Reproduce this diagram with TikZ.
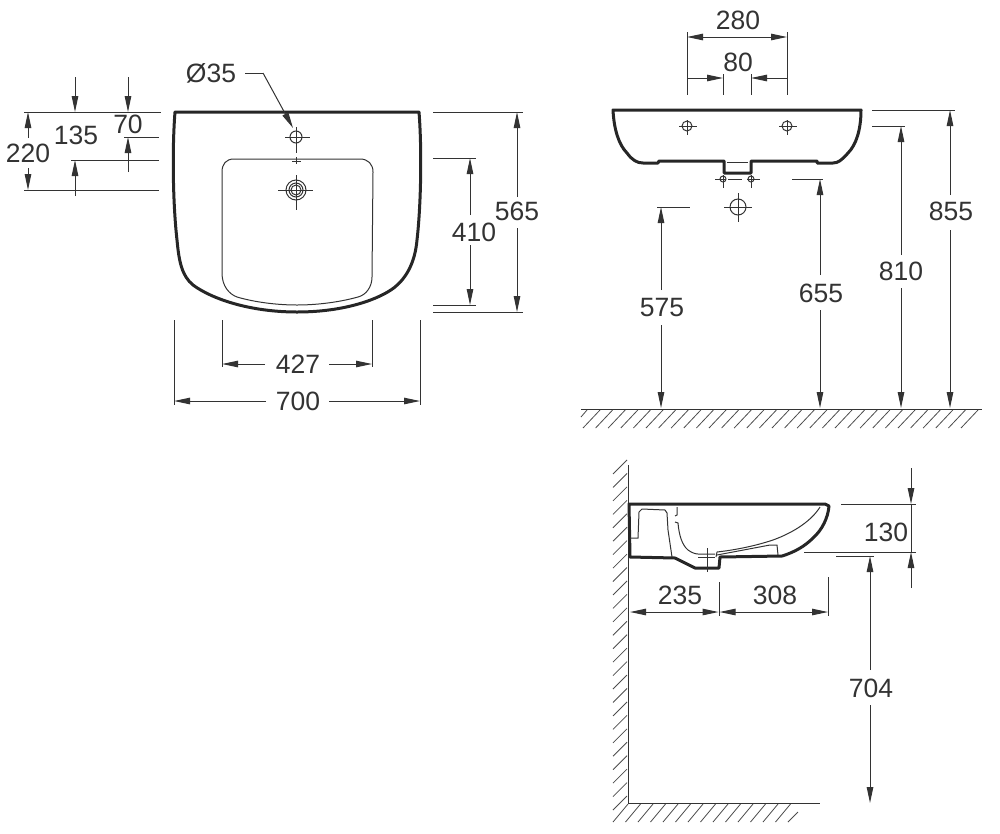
\documentclass[tikz,border=0pt]{standalone}
\usepackage{fontspec}
\setmainfont{Liberation Sans}
\usetikzlibrary{arrows.meta}
\tikzset{
  dimline/.style={draw=black!80,line width=1pt},
  dimtip/.tip={Stealth[length=16pt,width=6.5pt,inset=0pt]},
  dimarrow/.style={dimline,-dimtip},
  dimboth/.style={dimline,dimtip-dimtip},
  dimtext/.style={font=\fontsize{26.5}{30}\selectfont,text=black!80,inner sep=0pt},
  outline/.style={draw=black!85,line width=3pt,line join=round},
  thinline/.style={draw=black!80,line width=1pt},
  hatchline/.style={draw=black!70,line width=0.8pt}
}
\begin{document}
\begin{tikzpicture}[x=1pt,y=-1pt]
\useasboundingbox (0,0) rectangle (1000,833);

% top view
\draw[outline] (175,112) -- (419,112)
  .. controls (422,150) and (421,205) .. (417,240)
  .. controls (415,262) and (407,277) .. (395,287)
  .. controls (380,299) and (345,312) .. (297,312)
  .. controls (250,312) and (212,299) .. (193,285)
  .. controls (182,276) and (179,262) .. (177,240)
  .. controls (173,205) and (172,150) .. (175,112) -- cycle;
\draw[thinline] (222,172) .. controls (222,164) and (226,159) .. (234,159) -- (360,159)
  .. controls (368,159) and (373,164) .. (373,172) -- (372,277)
  .. controls (372,287) and (366,295) .. (358,297)
  .. controls (340,302) and (318,305) .. (297,305)
  .. controls (276,305) and (254,302) .. (237,297)
  .. controls (229,294) and (222,286) .. (222,273) -- cycle;
\draw[thinline] (296,137) circle (6);
\draw[thinline] (285,137) -- (310,137) (296,127) -- (296,153) (296,157) -- (296,164) (292,161) -- (301,161);
\foreach \rad in {10,7,5} \draw[thinline] (296,190) circle (\rad);
\draw[thinline] (278,190) -- (313,190) (296,175) -- (296,210);

\node[dimtext] (d35) at (211,73) {Ø35};
\draw[dimline] (245,73) -- (263,73);
\draw[dimarrow] (263,73) -- (293,128);

\draw[thinline] (24,112) -- (161,112) (124,137) -- (159,137) (71,160) -- (159,160) (24,190) -- (159,190);
\draw[dimarrow] (75,77) -- (75,112);
\draw[dimarrow] (128,77) -- (128,112);
\draw[dimarrow] (128,172) -- (128,137);
\draw[dimarrow] (75,196) -- (75,160);
\draw[dimarrow] (28,138) -- (28,112);
\draw[dimarrow] (28,168) -- (28,190);
\node[dimtext] (h220) at (28,153) {220};
\node[dimtext] (h135) at (76,135) {135};
\node[dimtext] (h70) at (128,124) {70};

\draw[thinline] (433,112) -- (523,112) (433,312) -- (523,312) (433,158) -- (476,158) (433,305) -- (476,305);
\draw[dimarrow] (517,197) -- (517,112);
\draw[dimarrow] (517,228) -- (517,312);
\draw[dimarrow] (470,215) -- (470,158);
\draw[dimarrow] (470,245) -- (470,305);
\node[dimtext] (h565) at (517,211) {565};
\node[dimtext] (h410) at (474,232) {410};

\draw[thinline] (174,320) -- (174,405) (420,320) -- (420,405) (222,320) -- (222,367) (372,320) -- (372,367);
\draw[dimarrow] (265,364) -- (222,364);
\draw[dimarrow] (329,364) -- (372,364);
\draw[dimarrow] (266,401) -- (174,401);
\draw[dimarrow] (329,401) -- (420,401);
\node[dimtext] (w427) at (298,364) {427};
\node[dimtext] (w700) at (298,401) {700};

% front view
\draw[outline] (613,110) -- (861,110) .. controls (861,130) and (856,145) .. (848,153)
  .. controls (842,160) and (838,163) .. (833,163) -- (817,163) -- (817,161) -- (751,161) -- (751,173)
  -- (724,173) -- (724,161) -- (659,161) -- (658,163) -- (643,163)
  .. controls (637,163) and (632,160) .. (627,153)
  .. controls (619,145) and (614,130) .. (613,110) -- cycle;
\draw[thinline] (727,162) -- (748,162);
\foreach \xpos in {687,787} {
  \draw[thinline] (\xpos,126) circle (5);
  \draw[thinline] (\xpos-8,126) -- (\xpos+10,126) (\xpos,120) -- (\xpos,135);
}
\foreach \xpos in {723,751} {
  \draw[thinline] (\xpos,179) circle (3);
  \draw[thinline] (\xpos,175) -- (\xpos,188);
}
\draw[thinline] (715,179) -- (726,179) (728,179) -- (742,179) (747,179) -- (760,179);
\draw[thinline] (738,207) circle (8);
\draw[thinline] (724,207) -- (752,207) (738,193) -- (738,222);

\draw[thinline] (687,32) -- (687,95) (787,32) -- (787,95) (723,74) -- (723,95) (751,74) -- (751,95);
\draw[dimboth] (687,37) -- (787,37);
\draw[dimarrow] (687,78) -- (723,78);
\draw[dimarrow] (787,78) -- (751,78);
\node[dimtext] (w280) at (738,20) {280};
\node[dimtext] (w80) at (738,62) {80};

\draw[thinline] (872,110) -- (955,110) (872,126) -- (905,126) (792,179) -- (823,179) (657,207) -- (690,207);
\draw[dimarrow] (950,195) -- (950,110);
\draw[dimarrow] (950,230) -- (950,408);
\draw[dimarrow] (901,255) -- (901,126);
\draw[dimarrow] (901,288) -- (901,408);
\draw[dimarrow] (820,275) -- (820,179);
\draw[dimarrow] (820,310) -- (820,408);
\draw[dimarrow] (661,290) -- (661,207);
\draw[dimarrow] (661,325) -- (661,408);
\node[dimtext] (h855) at (951,211) {855};
\node[dimtext] (h810) at (901,271) {810};
\node[dimtext] (h655) at (821,293) {655};
\node[dimtext] (h575) at (662,308) {575};

% floor
\draw[thinline] (581,409) -- (982,409);
\foreach \i in {0,...,30}
  \draw[hatchline] (600+12.6*\i,410) -- (583+12.6*\i,428);
\draw[hatchline] (587,410) -- (581,417);

% side view
\draw[thinline] (628.5,465) -- (628.5,803) -- (820,803);
\foreach \i in {0,...,25}
  \draw[hatchline] (627,460+13.44*\i) -- (613,474+13.44*\i);
\foreach \i in {0,...,13}
  \draw[hatchline] (628+12.5*\i,804) -- (613+12.5*\i,822);
\draw[hatchline] (798,812) -- (788,822);

\draw[outline] (629,504) -- (825,504) -- (829,506) .. controls (828,518) and (822,530) .. (813,538)
  .. controls (805,546) and (795,552) .. (782,556) -- (720,557) -- (719,568) -- (695,568) -- (675,558) -- (630,557) -- cycle;
\draw[thinline] (820,507) .. controls (812,520) and (795,532) .. (773,540)
  .. controls (755,546) and (735,550) .. (717,552) -- (716,557);
\draw[thinline] (717,555) -- (770,545) -- (777,545) -- (778,555);
\draw[thinline] (630,538) -- (638,538) -- (639,512) -- (642,509) -- (665,510) -- (667,513)
  -- (668,530) -- (672,557);
\draw[thinline] (677,507) -- (677,515) -- (675,516);
\draw[thinline] (675,522) -- (678,523) .. controls (679,535) and (682,545) .. (688,550)
  .. controls (692,553) and (696,554) .. (698,554) -- (715,554);
\draw[thinline] (698,557) -- (715,557) (707,548) -- (707,572);

\draw[thinline] (841,504) -- (916,504) (804,552) -- (916,552) (836,556) -- (874,556) (911,504) -- (911,552);
\draw[dimarrow] (911,468) -- (911,504);
\draw[dimarrow] (911,588) -- (911,552);
\draw[dimarrow] (870,670) -- (870,556);
\draw[dimarrow] (870,705) -- (870,803);
\node[dimtext] (h130) at (886,532) {130};
\node[dimtext] (h704) at (871,688) {704};

\draw[thinline] (719,582) -- (719,616) (828,577) -- (828,616);
\draw[dimboth] (630,612) -- (718.5,612);
\draw[dimboth] (719.5,612) -- (828,612);
\node[dimtext] (w235) at (680,595) {235};
\node[dimtext] (w308) at (775,595) {308};
\end{tikzpicture}
\end{document}
